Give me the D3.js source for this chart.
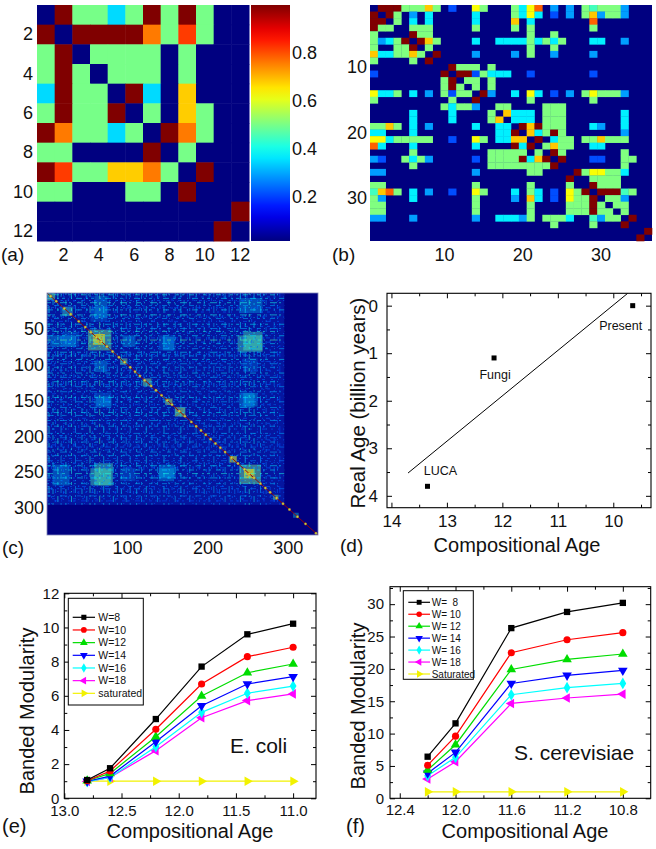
<!DOCTYPE html>
<html><head><meta charset="utf-8">
<script src="https://cdn.jsdelivr.net/npm/d3@7"></script>
<style>body{margin:0;background:#fff}</style>
</head><body>
<svg id="c" width="656" height="849" xmlns="http://www.w3.org/2000/svg"></svg>
<script>
// ================= DATA =================
// (a) 12x12 similarity matrix
const aMatrix = [
 [0,1,.5,.5,.35,.5,1,.5,1,.5,0,0],
 [1,0,1,1,1,1,.76,.5,.82,.5,0,0],
 [.5,1,0,.5,.5,.5,.5,0,.5,0,0,0],
 [.5,1,.5,0,.5,.5,.5,0,.5,0,0,0],
 [.35,1,.5,.5,0,1,.35,0,.68,0,0,0],
 [.5,1,.5,.5,1,0,.5,0,.68,.5,0,0],
 [1,.76,.5,.5,.35,.5,0,1,.76,.5,0,0],
 [.5,.5,0,0,0,0,1,0,.5,0,0,0],
 [1,.82,.5,.5,.68,.68,.76,.5,0,1,0,0],
 [.5,.5,0,0,0,.5,.5,0,1,0,0,0],
 [0,0,0,0,0,0,0,0,0,0,0,1],
 [0,0,0,0,0,0,0,0,0,0,1,0]
];
const aTicks = [2,4,6,8,10,12];
const aColorTicks = [0.2,0.4,0.6,0.8];
const aRange = [0.017, 1];

// (b) 36x36 symmetric matrix: upper-triangle entries [row, col, value]
const bSize = 36;
const bTicks = [10,20,30];
const bEntries = [
 [1,2,1],[1,3,1],[1,4,1],[1,5,.5],[1,6,.5],[1,7,.5],[1,8,.68],[1,9,.5],[1,11,.2],[1,14,.62],[1,15,.5],[1,19,.5],[1,20,.36],[1,21,.62],[1,22,.78],[1,24,.28],[1,26,.28],[1,28,.5],[1,29,.44],[1,30,.5],[1,31,.5],[1,32,.5],[1,33,.28],
 [2,3,1],[2,4,.5],[2,6,.28],[2,8,.36],[2,14,.36],[2,19,.5],[2,20,.36],[2,21,.62],[2,22,.36],[2,24,.2],[2,26,.28],[2,28,.5],[2,29,.68],[2,30,.28],[2,31,.5],[2,32,.5],[2,33,.28],
 [3,4,.5],[3,6,.36],[3,8,.36],[3,14,.36],[3,19,.68],[3,21,.36],[3,29,.78],
 [4,6,.5],[4,7,.5],[4,8,.5],[4,14,.5],[4,19,.5],[4,21,.5],[4,29,.5],
 [5,6,1],[5,7,.5],[5,8,.5],[5,21,.5],[5,24,.5],
 [6,7,1],[6,8,.68],[6,9,.5],[6,14,.36],[6,17,.36],[6,18,.36],[6,19,.36],[6,20,.36],[6,21,.5],[6,22,.36],[6,23,.5],[6,24,.36],[6,25,.5],[6,29,.36],[6,30,.36],[6,33,.28],
 [7,8,.5],[7,21,.5],[7,24,.5],
 [8,9,1],[8,14,.28],[8,19,.28],[8,21,.5],[8,24,.28],[8,29,.28],
 [10,11,1],[10,12,.5],[10,13,.5],[10,14,.5],[10,16,.5],
 [11,12,1],[11,13,1],[11,14,.2],[11,15,.5],[11,16,.36],[11,17,.36],[11,18,.36],[11,21,.2],[11,29,.2],
 [12,13,.5],[12,14,.5],[12,16,.5],
 [13,14,.5],[13,16,.5],
 [14,15,1],[14,16,.28],[14,19,.36],[14,21,.62],[14,22,.36],[14,24,.2],[14,26,.28],[14,28,.5],[14,29,.62],[14,30,.5],[14,31,.5],[14,32,.5],[14,33,.28],
 [15,21,.5],[15,29,.5],
 [16,17,.5],[16,18,.5],[16,23,.5],[16,24,.5],[16,25,.5],
 [17,18,.68],[17,19,.36],[17,20,.36],[17,21,.36],[17,23,.5],[17,24,.5],[17,25,.5],[17,33,.36],
 [18,19,.36],[18,20,.36],[18,21,.36],[18,23,.5],[18,24,.5],[18,25,.5],[18,33,.36],
 [19,20,1],[19,21,.68],[19,22,1],[19,23,.5],[19,24,.5],[19,25,.5],[19,29,.36],[19,30,.28],[19,33,.36],
 [20,21,.68],[20,22,.36],[20,23,.5],[20,24,1],[20,25,.5],[20,33,.28],
 [21,22,1],[21,24,.36],[21,25,.5],[21,26,.5],[21,28,.5],[21,29,.5],[21,30,.68],[21,31,.5],[21,32,.5],[21,33,.5],
 [22,23,.5],[22,24,.68],[22,25,.5],[22,26,.5],[22,29,.36],[22,30,.36],
 [23,24,1],[23,25,.5],[23,33,.5],
 [24,25,1],[24,29,.2],[24,30,.2],[24,33,.5],[24,34,.5],
 [25,33,.5],
 [26,27,1],[26,28,.5],[26,29,.62],[26,30,.62],[26,31,.5],[26,32,.5],[26,33,.36],
 [27,29,.5],[27,30,.5],[27,31,.5],[27,32,.5],
 [28,29,1],[28,30,.5],[28,31,.5],[28,32,.5],
 [29,30,1],[29,31,1],[29,32,1],[29,33,.44],[29,34,.5],
 [30,31,.5],[30,32,.5],[30,33,.28],
 [31,32,.5],[31,33,.5],
 [32,33,.5],
 [33,34,1],
 [35,36,1]
];

// (c) 337x337 matrix, summarised: active block, hub rows/cols, dense blocks, diagonal modules
const cSize = 337;
const cActive = 295;
const cYTicks = [50,100,150,200,250,300];
const cXTicks = [100,200,300];
const cHubs = [[3,.4],[8,.35],[14,.4],[18,.3],[24,.35],[31,.4],[36,.3],[44,.35],[50,.3],[54,.4],[60,.35],[66,.45],[71,.35],[78,.3],[83,.35],[88,.3],[93,.35],[99,.3],[104,.3],[112,.35],[118,.3],[124,.35],[131,.3],[138,.3],[146,.35],[152,.3],[160,.3],[167,.35],[171,.3],[178,.3],[186,.3],[196,.3],[202,.25],[208,.3],[215,.25],[222,.3],[227,.3],[234,.25],[241,.35],[247,.35],[252,.4],[258,.35],[266,.3],[273,.25],[283,.25],[290,.2]];
const cMinorHubs = [6,11,21,27,34,40,47,57,63,69,75,86,96,101,108,115,121,128,134,141,149,156,163,175,182,190,199,205,212,219,231,238,244,255,262,270,278,287];
const cBlocks = [
 [1,10,1,10,.5],[20,32,20,32,.45],[52,80,52,80,.5],[58,72,58,72,.65],[92,100,92,100,.5],[120,130,120,130,.5],
 [148,156,148,156,.55],[160,172,160,172,.55],[228,236,228,236,.6],[240,266,240,266,.5],[246,258,246,258,.65],
 [282,288,282,288,.5],[307,313,307,313,.4],
 [240,268,8,28,.35],[245,268,55,80,.45],[245,262,140,158,.35],[245,262,92,110,.3],[60,82,238,268,.45],
 [140,160,240,258,.35],[60,75,5,35,.35],[20,40,55,75,.3],[95,110,60,75,.35],[145,158,62,80,.35],[60,80,140,160,.3]
];
const cDiagMarks = [5,12,22,30,40,48,55,62,68,75,82,90,97,104,110,116,122,130,136,143,150,156,165,172,180,186,192,198,204,210,216,222,230,238,246,252,258,266,272,278,286,294,302,312,322,335];

// (d) real age vs compositional age
const dNames = ["Present","Fungi","LUCA"];
const dCompAge = [9.65, 12.15, 13.35];
const dRealAge = [0, 1.1, 3.8];
const dFitX = [13.7, 9.74];
const dFitY = [3.52, -0.26];
const dXTicks = [14,13,12,11,10];
const dYTicks = [0,1,2,3,4];

// (e) E. coli banded modularity
const eX = [12.8, 12.6, 12.2, 11.8, 11.4, 11.0];
const eNames = ["W=8","W=10","W=12","W=14","W=16","W=18","saturated"];
const eW8  = [1.07,1.76,4.64,7.71,9.60,10.22];
const eW10 = [1.03,1.60,4.04,6.69,8.29,8.84];
const eW12 = [1.03,1.46,3.60,5.99,7.35,7.86];
const eW14 = [1.00,1.30,3.31,5.42,6.69,7.12];
const eW16 = [0.98,1.22,3.02,5.03,6.15,6.57];
const eW18 = [0.98,1.22,2.79,4.72,5.72,6.11];
const eSat = [1,1,1,1,1,1];
const eXTicks = [13.0,12.5,12.0,11.5,11.0];
const eYTicks = [0,2,4,6,8,10,12];

// (f) S. cerevisiae banded modularity
const fX = [12.2, 12.0, 11.6, 11.2, 10.8];
const fNames = ["W=  8","W= 10","W= 12","W= 14","W= 16","W= 18","Saturated"];
const fW8  = [6.43,11.58,26.3,28.8,30.2];
const fW10 = [5.1,9.6,22.5,24.5,25.6];
const fW12 = [4.37,8.28,19.9,21.46,22.3];
const fW14 = [3.86,7.1,17.75,19.0,19.76];
const fW16 = [3.5,6.33,16.0,17.1,17.75];
const fW18 = [2.98,5.65,14.66,15.5,16.1];
const fSat = [1,1,1,1,1];
const fXTicks = [12.4,12.0,11.6,11.2,10.8];
const fYTicks = [0,5,10,15,20,25,30];

// ================= DRAWING =================
const FONT = '"Liberation Sans", Arial, Helvetica, sans-serif';
const svg = d3.select('#c');
const defs = svg.append('defs');

function jet(t){
  t = Math.max(0, Math.min(1, t));
  const c = x => Math.round(255*Math.max(0, Math.min(1, 1.5 - Math.abs(x))));
  return `rgb(${c(4*t-3)},${c(4*t-2)},${c(4*t-1)})`;
}
function styleAxis(g, fs){
  g.select('.domain').remove();
  g.attr('font-size', fs).attr('font-family', FONT);
  g.selectAll('text').attr('fill', '#111');
  g.selectAll('line').attr('stroke', '#000');
}
function label(x, y, txt, fs, anchor){
  svg.append('text').attr('x', x).attr('y', y).attr('font-family', FONT).attr('font-size', fs)
    .attr('text-anchor', anchor || 'start').attr('fill', '#111').text(txt);
}

// ---------- (a) ----------
(function(){
  const g = svg.append('g');
  const x = d3.scaleBand().domain(d3.range(1,13)).range([37,249]);
  const y = d3.scaleBand().domain(d3.range(1,13)).range([5,241]);
  const col = v => jet((Math.max(v,aRange[0]) - aRange[0])/(aRange[1]-aRange[0]));
  const cells = [];
  aMatrix.forEach((row,i)=>row.forEach((v,j)=>cells.push({r:i+1,c:j+1,v})));
  g.selectAll('rect.cell').data(cells).join('rect')
    .attr('x', d=>x(d.c)).attr('y', d=>y(d.r))
    .attr('width', x.bandwidth()+0.5).attr('height', y.bandwidth()+0.5)
    .attr('fill', d=>col(d.v));
  const grad = defs.append('linearGradient').attr('id','jetg').attr('x1',0).attr('y1',1).attr('x2',0).attr('y2',0);
  d3.range(0,1.0001,0.05).forEach(t=>grad.append('stop').attr('offset',t).attr('stop-color',jet(t)));
  const yc = d3.scaleLinear().domain(aRange).range([241,5]);
  g.append('rect').attr('x',251).attr('y',yc(aRange[1])).attr('width',39).attr('height',yc(aRange[0])-yc(aRange[1])).attr('fill','url(#jetg)');
  const ac = g.append('g').attr('transform','translate(290,0)').call(d3.axisRight(yc).tickValues(aColorTicks).tickSize(0).tickPadding(2).tickFormat(d3.format('.1f')));
  styleAxis(ac, 18);
  const ay = g.append('g').attr('transform','translate(37,0)').call(d3.axisLeft(y).tickValues(aTicks).tickSize(0).tickPadding(4));
  styleAxis(ay, 18);
  const ax = g.append('g').attr('transform','translate(0,241)').call(d3.axisBottom(x).tickValues(aTicks).tickSize(0).tickPadding(7));
  styleAxis(ax, 18);
  label(1, 261, '(a)', 19);
})();

// ---------- (b) ----------
(function(){
  const g = svg.append('g');
  const idx = d3.range(1, bSize+1);
  const x = d3.scaleBand().domain(idx).range([370,652]);
  const y = d3.scaleBand().domain(idx).range([5,241]);
  g.append('rect').attr('x',370).attr('y',5).attr('width',282).attr('height',236).attr('fill',jet(0));
  const cells = [];
  bEntries.forEach(([i,j,v])=>{ cells.push({r:i,c:j,v}); cells.push({r:j,c:i,v}); });
  g.selectAll('rect.cell').data(cells).join('rect')
    .attr('x', d=>x(d.c)).attr('y', d=>y(d.r))
    .attr('width', x.bandwidth()+0.3).attr('height', y.bandwidth()+0.3)
    .attr('fill', d=>jet(d.v));
  const ay = g.append('g').attr('transform','translate(370,0)').call(d3.axisLeft(y).tickValues(bTicks).tickSize(0).tickPadding(3));
  styleAxis(ay, 18);
  const ax = g.append('g').attr('transform','translate(0,241)').call(d3.axisBottom(x).tickValues(bTicks).tickSize(0).tickPadding(7));
  styleAxis(ax, 18);
  label(332, 261, '(b)', 19);
})();

// ---------- (c) ----------
(function(){
  const g = svg.append('g');
  const x = d3.scaleLinear().domain([0.5, cSize+0.5]).range([47,318]);
  const y = d3.scaleLinear().domain([0.5, cSize+0.5]).range([293,535]);
  defs.append('clipPath').attr('id','clipc').append('rect').attr('x',47).attr('y',293).attr('width',271).attr('height',242);
  const inner = g.append('g').attr('clip-path','url(#clipc)');
  inner.append('rect').attr('x',x(0.5)).attr('y',y(0.5)).attr('width',x(cSize+0.5)-x(0.5)).attr('height',y(cSize+0.5)-y(0.5)).attr('fill',jet(0));
  inner.append('rect').attr('x',x(0.5)).attr('y',y(0.5)).attr('width',x(cActive+0.5)-x(0.5)).attr('height',y(cActive+0.5)-y(0.5)).attr('fill','rgb(5,22,160)');
  const blocks = [];
  cBlocks.forEach(([r0,r1,c0,c1,v])=>{ blocks.push({r0,r1,c0,c1,v}); if(r0!==c0) blocks.push({r0:c0,r1:c1,c0:r0,c1:r1,v}); });
  inner.selectAll('rect.blk').data(blocks).join('rect')
    .attr('x',d=>x(d.c0-0.5)).attr('y',d=>y(d.r0-0.5))
    .attr('width',d=>x(d.c1+0.5)-x(d.c0-0.5)).attr('height',d=>y(d.r1+0.5)-y(d.r0-0.5))
    .attr('fill',d=>jet(d.v)).attr('opacity',d=>0.22 + 0.38*Math.max(0,(d.v-0.3))/0.35);
  const dashes = ['4 3 1 5 7 2 2 6','2 5 5 2 1 6 3 3','6 4 2 3 3 6 1 4'];
  const dim = ['1 4 3 6 2 5','2 6 1 3 4 7','3 5 1 7 2 4'];
  inner.selectAll('line.mv').data(cMinorHubs).join('line')
    .attr('x1',d=>x(d)).attr('x2',d=>x(d)).attr('y1',y(0.5)).attr('y2',y(cActive+0.5))
    .attr('stroke',jet(0.22)).attr('stroke-width',0.8).attr('opacity',0.7)
    .attr('stroke-dasharray',(d,i)=>dim[i%3]);
  inner.selectAll('line.mh').data(cMinorHubs).join('line')
    .attr('y1',d=>y(d)).attr('y2',d=>y(d)).attr('x1',x(0.5)).attr('x2',x(cActive+0.5))
    .attr('stroke',jet(0.22)).attr('stroke-width',0.8).attr('opacity',0.7)
    .attr('stroke-dasharray',(d,i)=>dim[(i+2)%3]);
  inner.selectAll('line.v').data(cHubs).join('line')
    .attr('x1',d=>x(d[0])).attr('x2',d=>x(d[0])).attr('y1',y(0.5)).attr('y2',y(cActive+0.5))
    .attr('stroke',d=>jet(d[1])).attr('stroke-width',0.9).attr('opacity',0.6)
    .attr('stroke-dasharray',(d,i)=>dashes[i%3]);
  inner.selectAll('line.h').data(cHubs).join('line')
    .attr('y1',d=>y(d[0])).attr('y2',d=>y(d[0])).attr('x1',x(0.5)).attr('x2',x(cActive+0.5))
    .attr('stroke',d=>jet(d[1])).attr('stroke-width',0.9).attr('opacity',0.6)
    .attr('stroke-dasharray',(d,i)=>dashes[(i+1)%3]);
  inner.append('line').attr('x1',x(0.5)).attr('y1',y(0.5)).attr('x2',x(cSize+0.5)).attr('y2',y(cSize+0.5))
    .attr('stroke','#9a0000').attr('stroke-width',0.9);
  inner.selectAll('circle.dm').data(cDiagMarks).join('circle')
    .attr('cx',d=>x(d)).attr('cy',d=>y(d)).attr('r',1.2)
    .attr('fill',jet(0.55)).attr('stroke',jet(0.8)).attr('stroke-width',0.4).attr('opacity',0.9);
  g.append('rect').attr('x',47).attr('y',293).attr('width',271).attr('height',242).attr('fill','none').attr('stroke','#7f86b8').attr('stroke-width',0.8);
  const ay = g.append('g').attr('transform','translate(47,0)').call(d3.axisLeft(y).tickValues(cYTicks).tickSize(0).tickPadding(3));
  styleAxis(ay, 18);
  const ax = g.append('g').attr('transform','translate(0,535)').call(d3.axisBottom(x).tickValues(cXTicks).tickSize(0).tickPadding(6));
  styleAxis(ax, 18);
  label(2, 554, '(c)', 19);
})();

// ---------- box-axes helper for (d)(e)(f) ----------
function boxAxes(g, x, y, o){
  const [x0,x1] = x.range(); const [y1,y0] = y.range();
  const mk = (fn, sc, vals, size, fmt, pad, tr) => {
    const a = g.append('g').attr('transform',tr)
      .call(fn(sc).tickValues(vals).tickSize(size).tickSizeOuter(0).tickPadding(pad).tickFormat(fmt));
    styleAxis(a, o.fs);
  };
  const none = () => '';
  mk(d3.axisBottom, x, o.xMajor, -5, o.xFmt, o.xPad, `translate(0,${y1})`);
  mk(d3.axisBottom, x, o.xMinor, -3, none, 0, `translate(0,${y1})`);
  mk(d3.axisTop, x, o.xMajor, -5, none, 0, `translate(0,${y0})`);
  mk(d3.axisTop, x, o.xMinor, -3, none, 0, `translate(0,${y0})`);
  mk(d3.axisLeft, y, o.yMajor, -5, o.yFmt, o.yPad, `translate(${x0},0)`);
  mk(d3.axisLeft, y, o.yMinor, -3, none, 0, `translate(${x0},0)`);
  mk(d3.axisRight, y, o.yMajor, -5, none, 0, `translate(${x1},0)`);
  mk(d3.axisRight, y, o.yMinor, -3, none, 0, `translate(${x1},0)`);
  g.append('rect').attr('x',x0).attr('y',y0).attr('width',x1-x0).attr('height',y1-y0)
    .attr('fill','none').attr('stroke','#000').attr('stroke-width',1.1);
}
function mids(arr){ const m=[]; for(let i=0;i<arr.length-1;i++) m.push((arr[i]+arr[i+1])/2); return m; }

const symMap = {square:[d3.symbolSquare,0], circle:[d3.symbolCircle,0], up:[d3.symbolTriangle,0], down:[d3.symbolTriangle,180], diamond:[d3.symbolDiamond,0], left:[d3.symbolTriangle,-90], right:[d3.symbolTriangle,90]};
function marker(g, type, cx, cy, color, size){
  g.append('path').attr('d', d3.symbol().type(symMap[type][0]).size(size)())
    .attr('transform', `translate(${cx},${cy}) rotate(${symMap[type][1]})`).attr('fill', color);
}

// ---------- (d) ----------
(function(){
  const g = svg.append('g');
  const x = d3.scaleLinear().domain([14.08, 9.32]).range([387,651]);
  const y = d3.scaleLinear().domain([4.25, -0.26]).range([507.7,293.3]);
  boxAxes(g, x, y, {xMajor:dXTicks, xMinor:mids(dXTicks).concat([9.5]), yMajor:dYTicks, yMinor:mids(dYTicks),
    xFmt:d3.format('d'), yFmt:d3.format('d'), fs:17, xPad:7, yPad:9});
  defs.append('clipPath').attr('id','clipd').append('rect').attr('x',387).attr('y',293.3).attr('width',264).attr('height',214.4);
  g.append('path').attr('clip-path','url(#clipd)')
    .datum(dFitX.map((v,i)=>[v,dFitY[i]]))
    .attr('d', d3.line().x(d=>x(d[0])).y(d=>y(d[1])))
    .attr('fill','none').attr('stroke','#000').attr('stroke-width',1);
  const off = {Present:[-12,24], Fungi:[1,21], LUCA:[13,-11]};
  dNames.forEach((n,i)=>{
    g.append('rect').attr('x',x(dCompAge[i])-2.5).attr('y',y(dRealAge[i])-2.5).attr('width',5).attr('height',5).attr('fill','#000');
    g.append('text').attr('x',x(dCompAge[i])+off[n][0]).attr('y',y(dRealAge[i])+off[n][1])
      .attr('text-anchor','middle').attr('font-family',FONT).attr('font-size',12.5).attr('fill','#111').text(n);
  });
  svg.append('text').attr('transform','translate(365,403) rotate(-90)').attr('text-anchor','middle')
    .attr('font-family',FONT).attr('font-size',20.5).attr('fill','#111').text('Real Age (billion years)');
  label(517, 552, 'Compositional Age', 20, 'middle');
  label(340, 552, '(d)', 19);
})();

// ---------- (e)/(f) line panels ----------
const sStyles = [
  {color:'#000000', sym:'square'}, {color:'#ff0000', sym:'circle'}, {color:'#00dd00', sym:'up'},
  {color:'#0000ff', sym:'down'}, {color:'#00ffff', sym:'diamond'}, {color:'#ff00ff', sym:'left'},
  {color:'#f2f200', sym:'right'}
];
function linePanel(o){
  const g = svg.append('g');
  const x = d3.scaleLinear().domain(o.xDom).range(o.xR);
  const y = d3.scaleLinear().domain(o.yDom).range(o.yR);
  boxAxes(g, x, y, {xMajor:o.xTicks, xMinor:o.xMinor, yMajor:o.yTicks, yMinor:o.yMinor,
    xFmt:d3.format('.1f'), yFmt:d3.format('d'), fs:o.fs, xPad:o.xPad, yPad:o.yPad});
  const line = d3.line().x((d,i)=>x(o.xs[i])).y(d=>y(d));
  for(let k=o.series.length-1;k>=0;k--){
    const s = o.series[k], st = sStyles[k];
    g.append('path').datum(s).attr('d', line).attr('fill','none').attr('stroke',st.color).attr('stroke-width',1.2);
    s.forEach((v,i)=>marker(g, st.sym, x(o.xs[i]), y(v), st.color, o.msize));
  }
  const L = o.leg;
  g.append('rect').attr('x',L.x).attr('y',L.y).attr('width',L.w).attr('height',L.h).attr('fill','#fff').attr('stroke','#000').attr('stroke-width',1);
  o.names.forEach((n,k)=>{
    const yy = L.y0 + k*L.dy, st = sStyles[k];
    g.append('line').attr('x1',L.lx0).attr('x2',L.lx1).attr('y1',yy).attr('y2',yy).attr('stroke',st.color).attr('stroke-width',1.2);
    marker(g, st.sym, (L.lx0+L.lx1)/2, yy, st.color, L.msize);
    g.append('text').attr('x',L.tx).attr('y',yy).attr('dy','0.36em').attr('font-family',FONT).attr('font-size',L.fs)
      .attr('fill','#111').style('white-space','pre').attr('xml:space','preserve').text(n);
  });
  label(o.tag[0], o.tag[1], o.tagText, 20);
  label(o.species[0], o.species[1], o.speciesText, 21);
  svg.append('text').attr('transform',`translate(${o.yt[0]},${o.yt[1]}) rotate(-90)`).attr('text-anchor','middle')
    .attr('font-family',FONT).attr('font-size',20).attr('fill','#111').text('Banded Modularity');
  label(o.xt[0], o.xt[1], 'Compositional Age', 20, 'middle');
}

linePanel({
  xDom:[13.0,10.8], xR:[64.3,316], yDom:[0,12], yR:[798.3,593.3],
  xTicks:eXTicks, xMinor:[12.75,12.25,11.75,11.25,10.75].filter(v=>v>10.8), yTicks:eYTicks, yMinor:[1,3,5,7,9,11],
  fs:15, xPad:7, yPad:5, xs:eX, series:[eW8,eW10,eW12,eW14,eW16,eW18,eSat], names:eNames, msize:40,
  leg:{x:68.3,y:598.3,w:75,h:106.7,y0:617.3,dy:12.67,lx0:72.7,lx1:95,tx:98.3,fs:10.5,msize:26},
  tag:[2,833], tagText:'(e)', species:[230,753], speciesText:'E. coli', yt:[34,711], xt:[190,838]
});
linePanel({
  xDom:[12.47,10.6], xR:[390,650.7], yDom:[0,32.7], yR:[798.3,586.7],
  xTicks:fXTicks, xMinor:[12.2,11.8,11.4,11.0], yTicks:fYTicks, yMinor:[2.5,7.5,12.5,17.5,22.5,27.5,32.5],
  fs:15, xPad:6, yPad:6, xs:fX, series:[fW8,fW10,fW12,fW14,fW16,fW18,fSat], names:fNames, msize:40,
  leg:{x:403.3,y:590.7,w:70,h:88.6,y0:602.3,dy:11.95,lx0:408.3,lx1:430,tx:431.7,fs:10,msize:24},
  tag:[346,833], tagText:'(f)', species:[514,760], speciesText:'S. cerevisiae', yt:[365,706], xt:[525,838]
});
</script>
</body></html>
